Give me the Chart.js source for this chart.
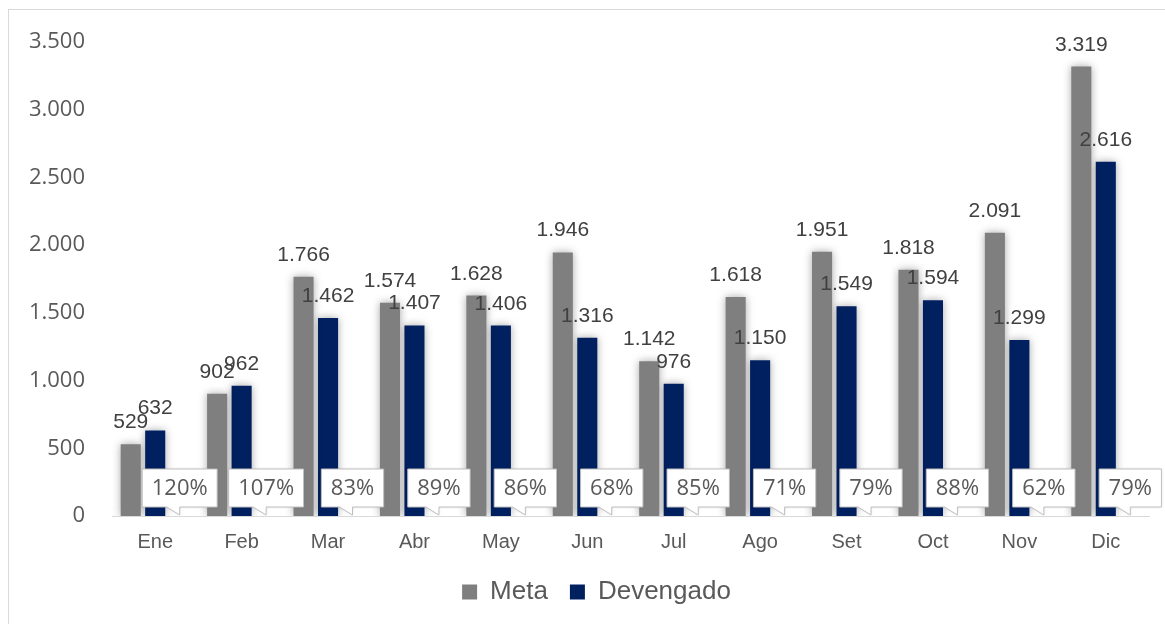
<!DOCTYPE html>
<html>
<head>
<meta charset="utf-8">
<script src="https://cdn.jsdelivr.net/npm/chart.js@4"></script>
<style>
    html, body { margin: 0; padding: 0; background: #ffffff; }
    .frame {
        position: absolute; left: 8px; top: 9px; width: 1200px; height: 700px;
        border-left: 1px solid #d9d9d9; border-top: 1px solid #d9d9d9;
    }
    .wrap { position: absolute; left: 0; top: 0; width: 1165px; height: 624px; }
</style>
</head>
<body>
<div class="frame"></div>
<div class="wrap"><canvas id="metaChart" width="1165" height="624"></canvas></div>
<script>
const months = ['Ene', 'Feb', 'Mar', 'Abr', 'May', 'Jun', 'Jul', 'Ago', 'Set', 'Oct', 'Nov', 'Dic']
const meta = [529, 902, 1766, 1574, 1628, 1946, 1142, 1618, 1951, 1818, 2091, 3319]
const devengado = [632, 962, 1462, 1407, 1406, 1316, 976, 1150, 1549, 1594, 1299, 2616]
const avance = [120, 107, 83, 89, 86, 68, 85, 71, 79, 88, 62, 79]

const fmt = (v) => String(v).replace(/\B(?=(\d{3})+(?!\d))/g, '.')

// soft glow behind the two real series
const barShadow = {
    id: 'barShadow',
    beforeDatasetDraw(chart, args) {
        if (args.index > 1) return
        const ctx = chart.ctx
        ctx.save()
        ctx.shadowColor = 'rgba(0,0,0,0.35)'
        ctx.shadowBlur = 8
    },
    afterDatasetDraw(chart, args) {
        if (args.index > 1) return
        chart.ctx.restore()
    }
}

// legend sits a bit right of centre in the original
const legendShift = {
    id: 'legendShift',
    afterLayout(chart) {
        chart.legend.left += 22
        chart.legend.right += 22
    }
}

// callout boxes with the percentage + value labels on top of bars
const labelsPlugin = {
    id: 'labelsPlugin',
    afterDatasetsDraw(chart) {
        const ctx = chart.ctx
        const zeroY = chart.scales.y.getPixelForValue(0)

        ctx.save()
        ctx.font = "22px 'Open Sans'"
        chart.getDatasetMeta(2).data.forEach((el, i) => {
            const text = avance[i] + '%'
            const w = ctx.measureText(text).width + 19
            const h = 38
            const x = el.x
            const bottom = zeroY - 9
            const top = bottom - h
            const left = x - w / 2
            const right = x + w / 2
            ctx.beginPath()
            ctx.moveTo(left, top)
            ctx.lineTo(right, top)
            ctx.lineTo(right, bottom)
            ctx.lineTo(x, bottom)
            ctx.lineTo(x, zeroY - 1)
            ctx.lineTo(x - 13, bottom)
            ctx.lineTo(left, bottom)
            ctx.closePath()
            ctx.shadowColor = 'rgba(0,0,0,0.15)'
            ctx.shadowBlur = 3
            ctx.fillStyle = '#ffffff'
            ctx.fill()
            ctx.shadowBlur = 0
            ctx.strokeStyle = '#bfbfbf'
            ctx.lineWidth = 1
            ctx.stroke()
            ctx.fillStyle = '#595959'
            ctx.textAlign = 'center'
            ctx.textBaseline = 'middle'
            ctx.fillText(text, x, (top + bottom) / 2 + 1)
        })

        ctx.font = "21px 'Liberation Sans', Arial, sans-serif"
        ctx.fillStyle = '#404040'
        ctx.textAlign = 'center'
        ctx.textBaseline = 'alphabetic'
        ;[0, 1].forEach((d) => {
            const values = chart.data.datasets[d].data
            chart.getDatasetMeta(d).data.forEach((el, i) => {
                ctx.fillText(fmt(values[i]), el.x, el.y - 16)
            })
        })
        ctx.restore()
    }
}

const chartCanvas = document.getElementById('metaChart')

new Chart(chartCanvas, {
    type: 'bar',
    data: {
        labels: months,
        datasets: [
            {
                label: 'Meta',
                data: meta,
                backgroundColor: '#7f7f7f',
                categoryPercentage: 0.85,
                barPercentage: 0.82,
            },
            {
                label: 'Devengado',
                data: devengado,
                backgroundColor: '#002060',
                categoryPercentage: 0.85,
                barPercentage: 0.82,
            },
            {
                label: 'Avance',
                data: avance.map(v => v / 100),
                backgroundColor: 'transparent',
                categoryPercentage: 0.85,
                barPercentage: 0.82,
            },
        ]
    },
    options: {
        responsive: false,
        animation: false,
        layout: {
            padding: { top: 42, right: 16, bottom: 9, left: 0 }
        },
        scales: {
            x: {
                grid: { display: false },
                border: { display: true, color: '#d9d9d9', width: 1 },
                ticks: {
                    color: '#595959',
                    padding: 6,
                    font: { size: 20, family: "'Liberation Sans', Arial, sans-serif" }
                },
                afterFit: (scale) => { scale.height = 41 }
            },
            y: {
                min: 0,
                max: 3500,
                grid: { display: false, drawTicks: false },
                border: { display: false },
                ticks: {
                    stepSize: 500,
                    padding: 27,
                    color: '#595959',
                    font: { size: 22, family: "'Open Sans', sans-serif" },
                    callback: (v) => fmt(v)
                },
                afterFit: (scale) => { scale.width = 112 }
            }
        },
        plugins: {
            tooltip: { enabled: false },
            legend: {
                position: 'bottom',
                labels: {
                    boxWidth: 15,
                    boxHeight: 15,
                    padding: 22,
                    color: '#595959',
                    font: { size: 26, family: "'Liberation Sans', Arial, sans-serif" },
                    filter: (item) => item.datasetIndex < 2
                }
            }
        }
    },
    plugins: [barShadow, legendShift, labelsPlugin]
})
</script>
</body>
</html>
